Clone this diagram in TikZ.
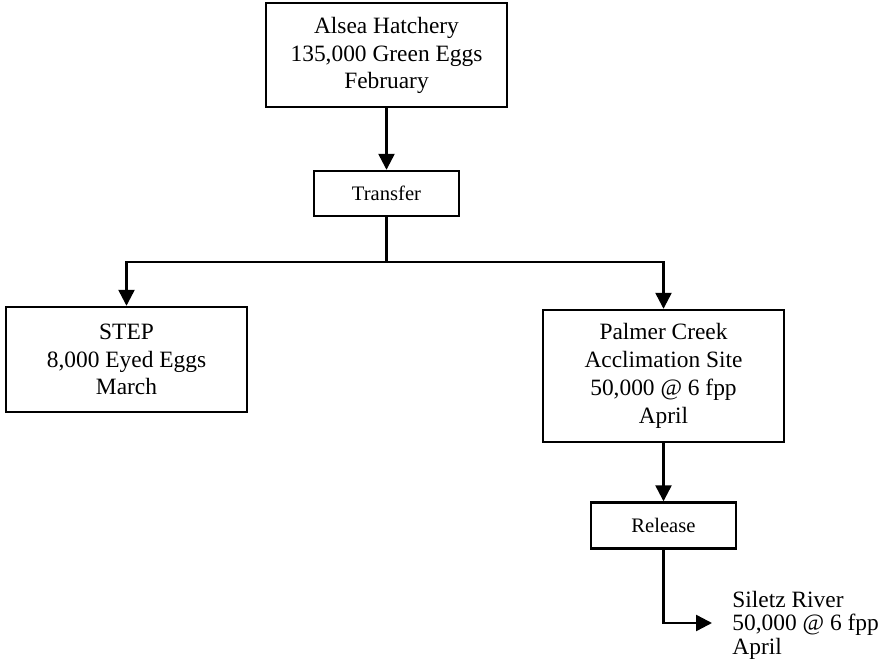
\documentclass[tikz,border=0pt]{standalone}
\usepackage{fontspec}
\setmainfont{Liberation Serif}
\usetikzlibrary{arrows.meta}
\begin{document}
\begin{tikzpicture}[x=0.5pt,y=-0.5pt,
  bigbox/.style={draw,line width=1.2pt,minimum width=120.5pt,align=center,inner sep=0pt,font=\fontsize{11.7}{13.6}\selectfont},
  smallbox/.style={draw,line width=1.2pt,minimum width=72.5pt,minimum height=23pt,align=center,inner sep=0pt,font=\fontsize{10.3}{12}\selectfont},
  conn/.style={line width=1.2pt},
  arr/.style={conn,-{Triangle[length=8pt,width=8pt]}}]
\useasboundingbox (0,0) rectangle (878,667);
\node[bigbox,minimum height=52pt,text depth=2pt] (alsea) at (386.5,55) {Alsea Hatchery\\135,000 Green Eggs\\February};
\node[smallbox,minimum height=22.5pt] (transfer) at (386.5,193.5) {Transfer};
\coordinate (j) at (386.5,262);
\node[bigbox,minimum height=52.5pt] (step) at (126.5,359.5) {STEP\\8,000 Eyed Eggs\\March};
\node[bigbox,minimum height=66pt,font=\fontsize{11.7}{14.1}\selectfont] (palmer) at (663.5,376) {Palmer Creek\\Acclimation Site\\50,000 @ 6 fpp\\April};
\node[smallbox] (release) at (663.5,525.5) {Release};
\node[anchor=west,align=left,inner xsep=10pt,inner ysep=0pt,font=\fontsize{11.7}{11.8}\selectfont] (siletz) at (712,625) {Siletz River\\50,000 @ 6 fpp\\April};
\draw[arr] (alsea) -- (transfer);
\draw[conn] (transfer) -- (j);
\draw[arr] (j) -| (step.north);
\draw[arr] (j) -| (palmer.north);
\draw[arr] (palmer) -- (release);
\draw[arr] (release.south) |- ([yshift=1pt]siletz.west);
\end{tikzpicture}
\end{document}
